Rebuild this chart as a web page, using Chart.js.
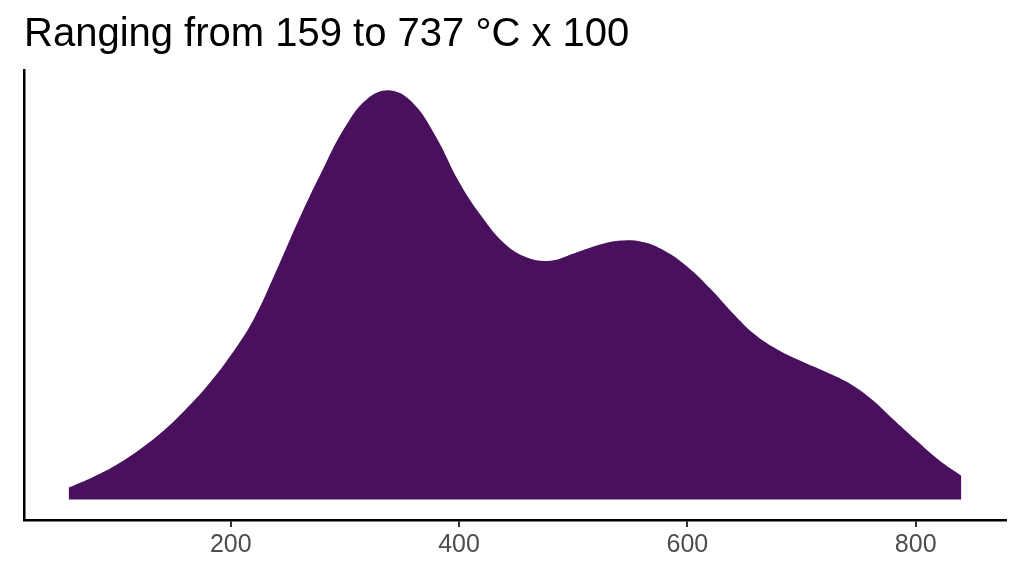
<!DOCTYPE html>
<html lang="en">
<head>
<meta charset="UTF-8">
<title>Density</title>
<script src="https://cdn.jsdelivr.net/npm/chart.js"></script>
<style>
  html, body { margin: 0; padding: 0; background: #fff; }
  #wrap { width: 1024px; height: 576px; }
</style>
</head>
<body>
<div id="wrap"><canvas id="myChart" width="1024" height="576"></canvas></div>
<script>
// temperature (°C x 100) and estimated density
const temps = [58, 80, 100, 120, 140, 160, 180, 200, 220, 240, 260, 280, 300, 320, 340,
               360, 380, 400, 420, 440, 460, 480, 500, 520, 540, 560, 580, 600, 620, 640,
               660, 680, 700, 720, 740, 760, 780, 800, 820, 840];
const density = [0.00012, 0.00023, 0.00035, 0.00050, 0.00068, 0.00090, 0.00115, 0.00145,
                 0.00181, 0.00230, 0.00282, 0.00330, 0.00374, 0.00403, 0.00411, 0.00398,
                 0.00364, 0.00319, 0.00284, 0.00257, 0.00243, 0.00240, 0.00247, 0.00255,
                 0.00260, 0.00259, 0.00250, 0.00234, 0.00212, 0.00187, 0.00165, 0.00150,
                 0.00139, 0.00129, 0.00118, 0.00102, 0.00081, 0.00060, 0.00040, 0.00024];
const xTicks = [200, 400, 600, 800];

const points = temps.map((t, i) => ({ x: t, y: density[i] }));

const ctx = document.getElementById('myChart').getContext('2d');
new Chart(ctx, {
    type: 'line',
    data: {
        datasets: [{
            data: points,
            backgroundColor: '#48105d',
            borderWidth: 0,
            pointRadius: 0,
            fill: 'origin',
            tension: 0.4
        }]
    },
    options: {
        responsive: false,
        animation: false,
        layout: { padding: { left: 0, right: 18, top: 0, bottom: 0 } },
        plugins: {
            legend: { display: false },
            tooltip: { enabled: false },
            title: {
                display: true,
                text: 'Ranging from 159 to 737 °C x 100',
                align: 'start',
                fullSize: false,
                color: '#000',
                font: { family: 'Liberation Sans, Arial, sans-serif', size: 40, weight: 'normal', lineHeight: 1.2 },
                padding: { top: 11, bottom: 11 }
            }
        },
        scales: {
            x: {
                type: 'linear',
                min: 18.9,
                max: 879.1,
                afterBuildTicks: scale => { scale.ticks = xTicks.map(v => ({ value: v })); },
                afterFit: scale => { scale.height = 56; },
                grid: { drawOnChartArea: false, drawTicks: true, tickLength: 7, color: '#333', lineWidth: 2 },
                border: { display: true, color: '#000', width: 2.5 },
                ticks: {
                    color: '#4d4d4d',
                    padding: 3,
                    font: { family: 'Liberation Sans, Arial, sans-serif', size: 25, lineHeight: 1.2 },
                    maxRotation: 0
                }
            },
            y: {
                min: -0.0002055,
                max: 0.0043155,
                afterFit: scale => { scale.width = 24; },
                grid: { display: false },
                border: { display: true, color: '#000', width: 2.5 },
                ticks: { display: false }
            }
        }
    }
});
</script>
</body>
</html>
